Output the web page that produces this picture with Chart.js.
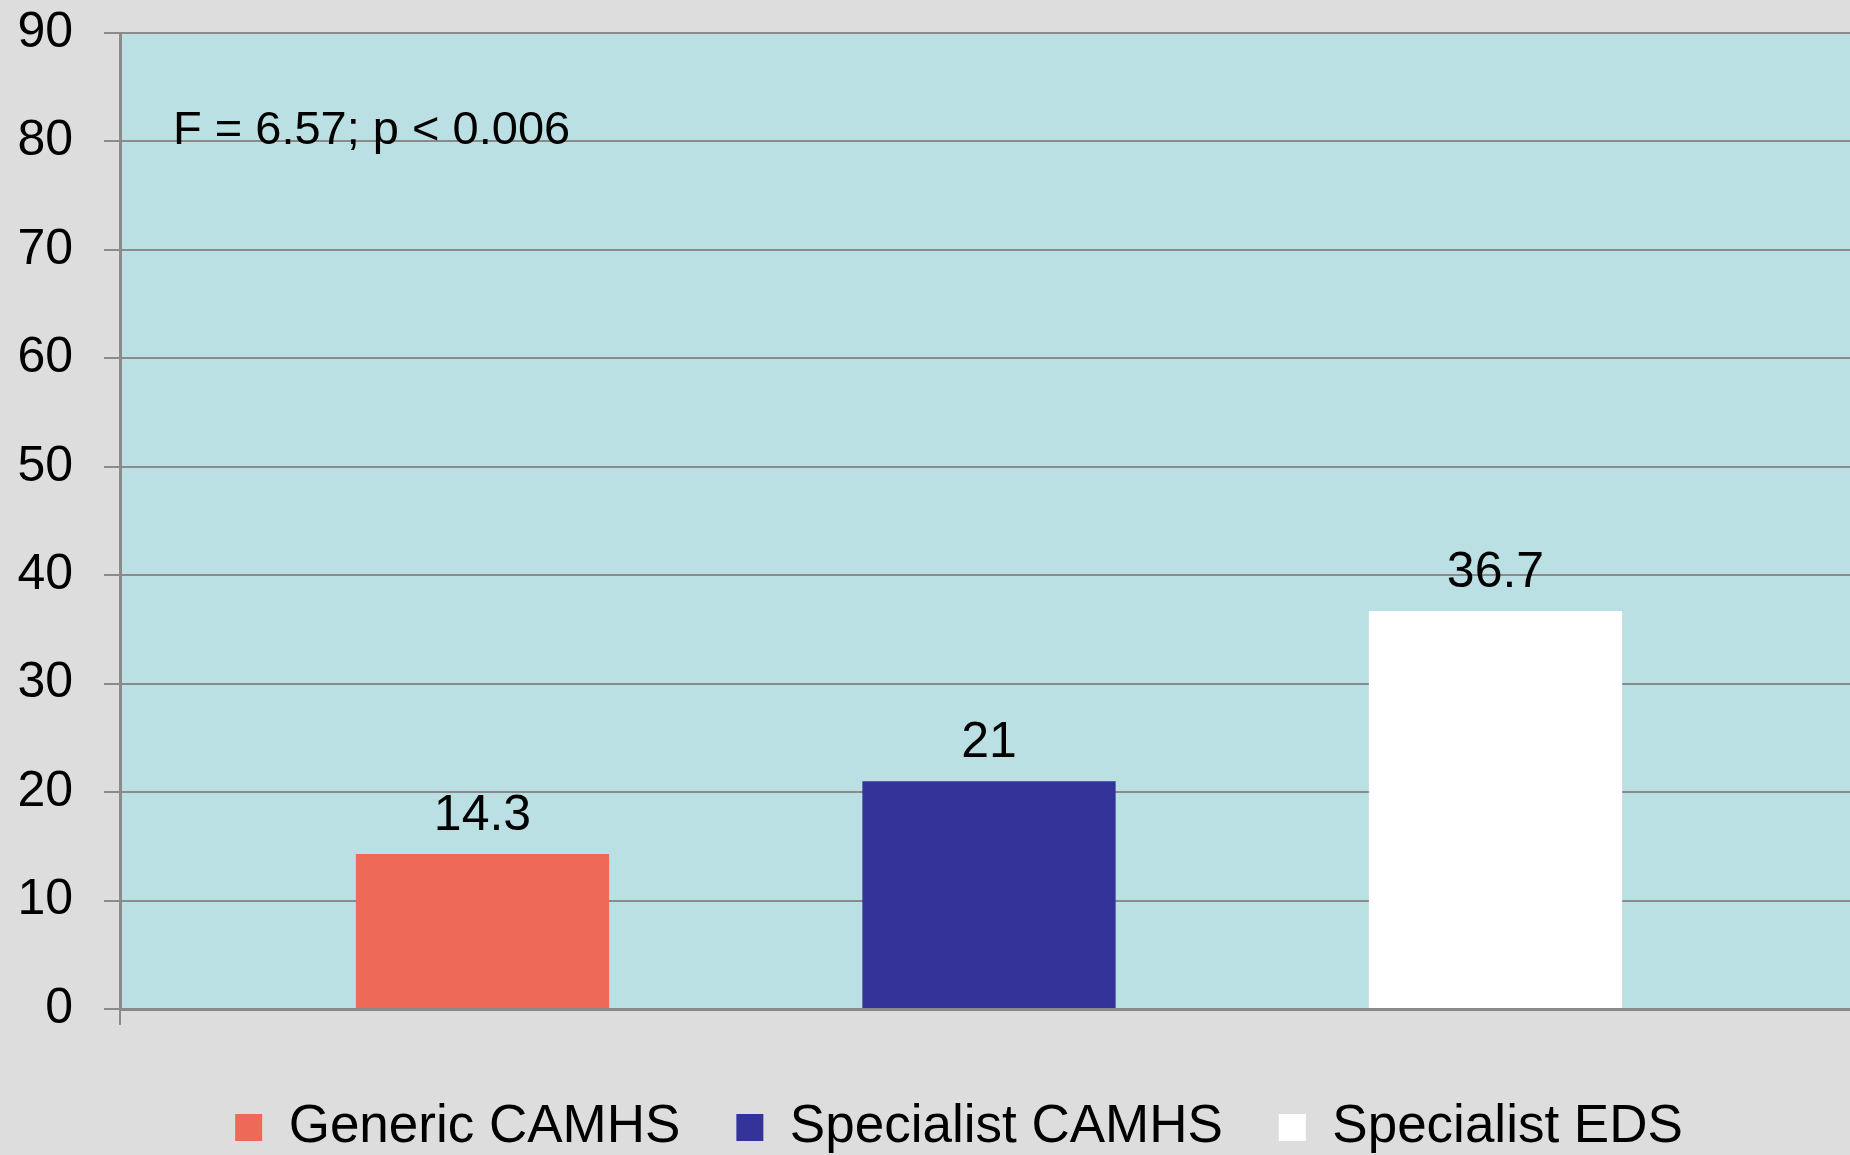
<!DOCTYPE html>
<html>
<head>
<meta charset="utf-8">
<script src="https://cdn.jsdelivr.net/npm/chart.js@4.4.1/dist/chart.umd.min.js"></script>
<style>
  html, body { margin: 0; padding: 0; background: #DDDDDD; overflow: hidden; width: 1850px; height: 1155px; }
  #wrap { position: absolute; left: 0; top: 0; width: 1858px; height: 1155px; }
  canvas { display: block; }
</style>
</head>
<body>
<div id="wrap"><canvas id="c" width="1858" height="1155"></canvas></div>
<script>
// ---- data ----
const categories = ['Generic CAMHS', 'Specialist CAMHS', 'Specialist EDS'];
const values = [14.3, 21, 36.7];
const barColors = ['#EE6A56', '#333399', '#FFFFFF'];
const yMin = 0;
const yMax = 90;
const yStep = 10;
const annotationText = 'F = 6.57; p < 0.006';

const FONT = "'Liberation Sans', Arial, sans-serif";
const GRID = '#8a8a8a';

const datasets = categories.map((c, i) => ({
  label: c,
  data: [values[i]],
  backgroundColor: barColors[i],
  borderWidth: 0
}));

const plotBg = {
  id: 'plotBg',
  beforeDraw(chart) {
    const { ctx, chartArea: a } = chart;
    ctx.save();
    ctx.fillStyle = '#BBE0E3';
    ctx.fillRect(a.left, a.top, a.right - a.left, a.bottom - a.top);
    ctx.restore();
  }
};

// shift the legend block so it is centred like the original slide
const legendShift = {
  id: 'legendShift',
  afterLayout(chart) {
    if (chart.legend) {
      chart.legend.left += 60;
    }
  }
};

const valueLabels = {
  id: 'valueLabels',
  afterDatasetsDraw(chart) {
    const { ctx } = chart;
    ctx.save();
    ctx.font = '50px ' + FONT;
    ctx.fillStyle = '#000';
    ctx.textAlign = 'center';
    ctx.textBaseline = 'alphabetic';
    chart.data.datasets.forEach((ds, i) => {
      const meta = chart.getDatasetMeta(i);
      meta.data.forEach((el, j) => {
        ctx.fillText(String(ds.data[j]), el.x, el.y - 24);
      });
    });
    ctx.restore();
  }
};

const annotation = {
  id: 'annotation',
  afterDatasetsDraw(chart) {
    const { ctx, chartArea: a } = chart;
    const y = chart.scales.y.getPixelForValue(80);
    ctx.save();
    ctx.font = '47px ' + FONT;
    ctx.fillStyle = '#000';
    ctx.textAlign = 'left';
    ctx.textBaseline = 'alphabetic';
    ctx.fillText(annotationText, a.left + 53, y + 3);
    ctx.restore();
  }
};

new Chart(document.getElementById('c'), {
  type: 'bar',
  data: { labels: [''], datasets },
  plugins: [plotBg, legendShift, valueLabels, annotation],
  options: {
    responsive: false,
    devicePixelRatio: 1,
    animation: false,
    categoryPercentage: 0.8743,
    barPercentage: 0.5,
    layout: { padding: { top: 33, left: 0, right: 0, bottom: 0 } },
    plugins: {
      tooltip: { enabled: false },
      legend: {
        position: 'bottom',
        align: 'center',
        maxHeight: 110,
        labels: {
          boxWidth: 27,
          boxHeight: 27,
          padding: 56,
          color: '#000',
          font: { family: FONT, size: 53 }
        }
      }
    },
    scales: {
      x: {
        offset: true,
        grid: { display: true, drawOnChartArea: false, color: GRID, lineWidth: 2, tickLength: 16, offset: true },
        border: { display: true, color: GRID, width: 3 },
        ticks: { display: false },
        afterFit(scale) { scale.height = 36; scale.paddingLeft = 0; scale.paddingRight = 0; }
      },
      y: {
        min: yMin,
        max: yMax,
        grid: { color: GRID, lineWidth: 2, tickLength: 16 },
        border: { display: true, color: GRID, width: 3 },
        ticks: {
          stepSize: yStep,
          color: '#000',
          padding: 31,
          font: { family: FONT, size: 50 }
        },
        afterFit(scale) { scale.width = 120; scale.paddingTop = 0; scale.paddingBottom = 0; }
      }
    }
  }
});
</script>
</body>
</html>
